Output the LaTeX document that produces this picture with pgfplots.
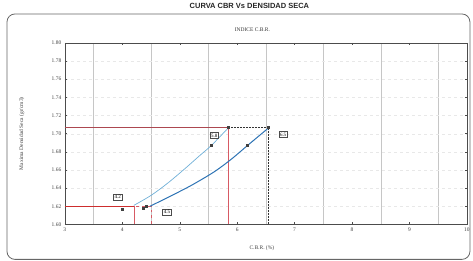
\documentclass[border=0pt]{standalone}
\usepackage{pgfplots}
\pgfplotsset{compat=1.18}
\usepackage{fontspec}
\setmainfont{Liberation Serif}
\newfontfamily\sansb{Liberation Sans}
\definecolor{lblue}{RGB}{110,175,215}
\definecolor{dblue}{RGB}{45,115,180}
\definecolor{cred}{RGB}{205,45,45}
\definecolor{pred}{RGB}{215,90,100}
\begin{document}
\begin{tikzpicture}[x=1pt,y=1pt]
\path (-65,-36) rectangle (408,223);
\draw[gray!80!black, line width=0.8pt, rounded corners=8pt] (-58,211) rectangle (406,-35);
\node[font=\sansb\bfseries\fontsize{7.5}{8}\selectfont, text=black!85] at (185,219) {CURVA CBR Vs DENSIDAD SECA};
\node[font=\fontsize{5.5}{6}\selectfont, text=black!80] at (188,195) {INDICE C.B.R.};
\begin{axis}[
  at={(0,0)}, anchor=south west,
  scale only axis, width=403pt, height=182pt,
  xmin=3, xmax=10, ymin=1.60, ymax=1.80,
  xtick={3,4,...,10},
  ytick={1.60,1.62,...,1.801},
  yticklabel style={/pgf/number format/fixed,/pgf/number format/fixed zerofill,/pgf/number format/precision=2},
  /pgf/number format/assume math mode=true,
  tick label style={font=\fontsize{5.5}{6}\selectfont, text=black!75},
  minor x tick num=1,
  xminorgrids=true, ymajorgrids=true,
  minor x grid style={gray!45, line width=0.4pt},
  major y grid style={gray!18, dashed, line width=0.3pt},
  axis line style={black!70, line width=0.7pt},
  tick style={black!70, line width=0.4pt},
  major tick length=2pt, minor tick length=0pt,
  xlabel={C.B.R. (\%)}, ylabel={Maxima Densidad Seca (gr/cm3)},
  label style={font=\fontsize{5.5}{6}\selectfont, text=black!75},
  xlabel style={at={(axis description cs:0.49,0)}, anchor=center, yshift=-24pt},
  ylabel style={at={(axis description cs:-0.107,0.5)}, anchor=center},
  clip=false,
]
% reference lines
\addplot[cred, line width=1.4pt] coordinates {(3,1.62) (4.2,1.62)};
\addplot[pred, line width=0.5pt] coordinates {(4.2,1.60) (4.2,1.62)};
\addplot[pred, line width=0.5pt, dashed] coordinates {(4.5,1.60) (4.5,1.62) (4.2,1.62)};
\addplot[pred!80!black, line width=0.5pt] coordinates {(3,1.707) (5.84,1.707)};
\addplot[pred, line width=0.6pt] coordinates {(5.84,1.60) (5.84,1.707)};
\addplot[black!80, line width=0.5pt, densely dotted] coordinates {(5.84,1.707) (6.54,1.707) (6.54,1.60)};
% curves
\addplot[lblue, line width=0.7pt, smooth] coordinates {(4.2,1.621) (4.5,1.632) (4.8,1.646) (5.1,1.662) (5.35,1.676) (5.55,1.687) (5.84,1.706)};
\addplot[dblue, line width=1.0pt, smooth] coordinates {(4.48,1.620) (4.8,1.630) (5.2,1.643) (5.6,1.658) (5.9,1.672) (6.18,1.687) (6.54,1.706)};
% markers
\addplot[only marks, mark=square*, mark size=0.9pt, black!75] coordinates {(5.55,1.687) (6.18,1.687) (5.84,1.707) (6.54,1.707) (4.0,1.617) (4.37,1.618) (4.42,1.620)};
% value labels
\node[draw=black!70, fill=white, inner sep=1.3pt, font=\fontsize{5}{6}\selectfont] at (axis cs:3.92,1.630) {4.2};
\node[draw=black!70, fill=white, inner sep=1.3pt, font=\fontsize{5}{6}\selectfont] at (axis cs:4.78,1.614) {4.5};
\node[draw=black!70, fill=white, inner sep=1.3pt, font=\fontsize{5}{6}\selectfont] at (axis cs:5.6,1.698) {5.8};
\node[draw=black!70, fill=white, inner sep=1.3pt, font=\fontsize{5}{6}\selectfont] at (axis cs:6.8,1.699) {6.5};
\end{axis}
\end{tikzpicture}
\end{document}
